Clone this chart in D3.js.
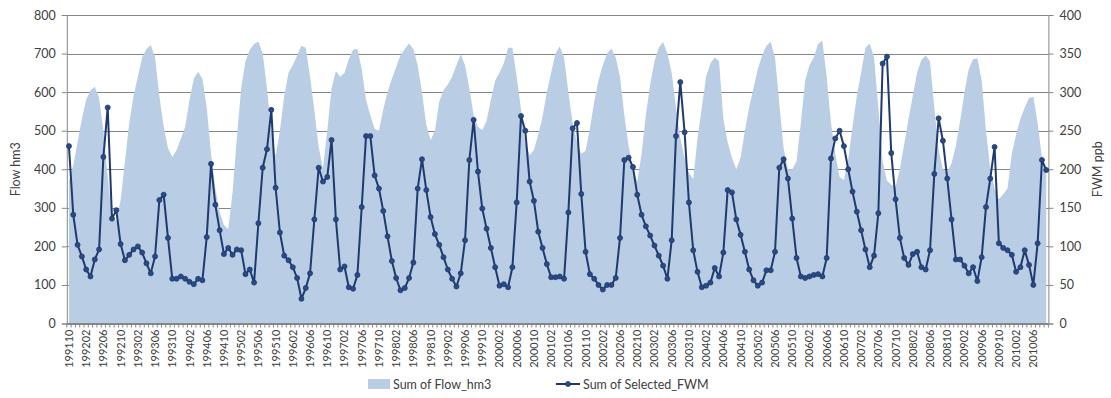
<!DOCTYPE html>
<html>
<head>
<meta charset="utf-8">
<script src="https://cdn.jsdelivr.net/npm/d3@7"></script>
<style>
  body { margin: 0; background: #fff; }
  svg { display: block; }
  text { font-family: Lato, "Liberation Sans", sans-serif; fill: #404040; }
</style>
</head>
<body>
<svg id="chart" width="1111" height="398"></svg>
<script>
// Monthly series, October 1991 through September 2010
const firstYear = 1991;
const firstMonth = 10;

// Sum of Flow_hm3 (left axis, hm3)
const flowHm3 = [
  370, 410, 470, 530, 580, 605, 614, 585, 500, 380,
  275, 265, 320, 420, 520, 590, 640, 690, 712, 722,
  690, 590, 510, 455, 432, 450, 480, 510, 580, 635,
  653, 635, 560, 440, 350, 290, 255, 245, 340, 480,
  610, 680, 709, 725, 731, 700, 610, 500, 435, 500,
  590, 650, 670, 695, 720, 715, 640, 553, 458, 402,
  500, 610, 655, 640, 650, 685, 710, 712, 660, 580,
  540, 505, 500, 555, 600, 635, 665, 695, 712, 726,
  712, 670, 600, 515, 475, 500, 575, 605, 620, 640,
  670, 698, 670, 610, 540, 510, 502, 525, 580, 630,
  650, 675, 715, 715, 640, 555, 470, 436, 450, 490,
  536, 600, 650, 700, 718, 690, 600, 520, 470, 440,
  448, 505, 575, 630, 670, 700, 713, 690, 640, 540,
  460, 400, 368, 440, 540, 620, 680, 715, 730, 700,
  650, 560, 480, 430, 390, 375, 480, 560, 640, 675,
  690, 680, 530, 470, 430, 400, 430, 500, 560, 610,
  660, 695, 720, 730, 690, 570, 455, 400, 400, 420,
  520, 630, 670, 690, 725, 733, 640, 520, 440, 380,
  372, 425, 510, 590, 650, 715, 726, 690, 560, 420,
  370, 360, 355, 400, 465, 530, 590, 650, 683, 695,
  680, 560, 450, 400, 395, 415, 460, 525, 600, 660,
  685, 688, 630, 500, 400, 350, 322, 335, 350, 440,
  490, 530, 560, 585, 588, 520, 430, 395
];

// Sum of Selected_FWM (right axis, ppb)
const selectedFwm = [
  230, 141, 102, 87, 70, 61, 83, 96, 216, 280,
  136, 147, 103, 82, 89, 96, 100, 92, 78, 65,
  87, 160, 167, 111, 58, 58, 61, 58, 54, 51,
  58, 56, 112, 207, 154, 121, 90, 98, 89, 96,
  95, 64, 70, 53, 130, 202, 226, 277, 176, 118,
  88, 82, 73, 59, 32, 46, 65, 135, 202, 184,
  190, 238, 135, 70, 74, 47, 45, 63, 151, 243,
  243, 192, 175, 146, 113, 81, 59, 43, 46, 59,
  79, 175, 213, 173, 138, 116, 102, 86, 70, 58,
  48, 65, 108, 212, 264, 197, 149, 123, 98, 73,
  49, 51, 47, 73, 157, 269, 250, 184, 159, 119,
  98, 77, 60, 60, 61, 58, 144, 253, 260, 168,
  93, 64, 58, 50, 44, 50, 50, 59, 111, 212,
  215, 203, 167, 141, 126, 114, 101, 88, 75, 58,
  108, 243, 313, 248, 157, 95, 67, 47, 49, 53,
  72, 61, 92, 173, 170, 135, 115, 93, 70, 56,
  49, 53, 69, 69, 93, 202, 213, 188, 136, 85,
  61, 59, 61, 63, 64, 61, 85, 214, 240, 250,
  230, 200, 171, 145, 121, 96, 73, 88, 143, 337,
  346, 221, 161, 111, 85, 76, 90, 93, 73, 70,
  95, 194, 266, 237, 188, 135, 83, 83, 75, 65,
  73, 55, 86, 151, 188, 229, 104, 98, 95, 89,
  67, 73, 95, 76, 50, 104, 212, 199
];

const flowTicks = [0, 100, 200, 300, 400, 500, 600, 700, 800];
const fwmTicks = [0, 50, 100, 150, 200, 250, 300, 350, 400];
const labelEvery = 4;

const flowLabel = "Flow hm3";
const fwmLabel = "FWM ppb";
const flowLegend = "Sum of Flow_hm3";
const fwmLegend = "Sum of Selected_FWM";

// Category labels yyyymm
const months = flowHm3.map((_, i) => {
  const m = firstMonth - 1 + i;
  const y = firstYear + Math.floor(m / 12);
  return `${y}${String(m % 12 + 1).padStart(2, "0")}`;
});

const svg = d3.select("#chart");
const plot = { left: 66.8, right: 1048.4, top: 15, bottom: 323.5 };

const x = d3.scaleBand().domain(months).range([plot.left, plot.right]).padding(0);
const cx = m => x(m) + x.bandwidth() / 2;
const yFlow = d3.scaleLinear().domain([0, 800]).range([plot.bottom, plot.top]);
const yFwm = d3.scaleLinear().domain([0, 400]).range([plot.bottom, plot.top]);

const axisColor = "#868686";

// Horizontal gridlines (hidden behind the filled area)
svg.append("g")
  .selectAll("line")
  .data(flowTicks)
  .join("line")
  .attr("x1", plot.left).attr("x2", plot.right)
  .attr("y1", d => Math.round(yFlow(d)) + 0.5)
  .attr("y2", d => Math.round(yFlow(d)) + 0.5)
  .attr("stroke", axisColor).attr("stroke-width", 1);

// Flow area
const flowData = months.map((m, i) => ({ m, v: flowHm3[i] }));
svg.append("path")
  .datum(flowData)
  .attr("fill", "#b9cde5")
  .attr("d", d3.area().x(d => cx(d.m)).y0(yFlow(0)).y1(d => yFlow(d.v)));

// Left axis
const leftAxis = svg.append("g")
  .attr("transform", `translate(${plot.left},0)`)
  .call(d3.axisLeft(yFlow).tickValues(flowTicks).tickSize(5).tickPadding(6));
leftAxis.select(".domain").attr("stroke", axisColor);
leftAxis.selectAll(".tick line").attr("stroke", axisColor);
leftAxis.selectAll("text").style("font-size", "12.5px").attr("fill", "#404040");

// Right axis
const rightAxis = svg.append("g")
  .attr("transform", `translate(${plot.right},0)`)
  .call(d3.axisRight(yFwm).tickValues(fwmTicks).tickSize(5).tickPadding(6));
rightAxis.select(".domain").attr("stroke", axisColor);
rightAxis.selectAll(".tick line").attr("stroke", axisColor);
rightAxis.selectAll("text").style("font-size", "12.5px").attr("fill", "#404040");

// Bottom category axis: a tick between every month, a label every fourth month
const bottom = svg.append("g").attr("transform", `translate(0,${plot.bottom})`);
bottom.append("line")
  .attr("x1", plot.left).attr("x2", plot.right)
  .attr("stroke", axisColor);
bottom.selectAll("line.tick")
  .data(months.concat(["end"]))
  .join("line")
  .attr("class", "tick")
  .attr("x1", (d, i) => i < months.length ? x(d) : plot.right)
  .attr("x2", (d, i) => i < months.length ? x(d) : plot.right)
  .attr("y1", 0).attr("y2", 4)
  .attr("stroke", axisColor);
bottom.selectAll("text")
  .data(months.filter((_, i) => i % labelEvery === 0))
  .join("text")
  .attr("transform", d => `translate(${cx(d) + 4},6) rotate(-90)`)
  .attr("text-anchor", "end")
  .style("font-size", "11px")
  .text(d => d);

// FWM line with markers
const fwmData = months.map((m, i) => ({ m, v: selectedFwm[i] }));
const lineColor = "#1f3a6e";
svg.append("path")
  .datum(fwmData)
  .attr("fill", "none")
  .attr("stroke", lineColor)
  .attr("stroke-width", 2)
  .attr("stroke-linejoin", "round")
  .attr("d", d3.line().x(d => cx(d.m)).y(d => yFwm(d.v)));
svg.append("g")
  .selectAll("circle")
  .data(fwmData)
  .join("circle")
  .attr("cx", d => cx(d.m))
  .attr("cy", d => yFwm(d.v))
  .attr("r", 2.5)
  .attr("fill", "#2a4a85")
  .attr("stroke", lineColor)
  .attr("stroke-width", 0.8);

// Axis titles
svg.append("text")
  .attr("transform", `translate(20,${(plot.top + plot.bottom) / 2}) rotate(-90)`)
  .attr("text-anchor", "middle")
  .style("font-size", "12.5px")
  .text(flowLabel);
svg.append("text")
  .attr("transform", `translate(1102,${(plot.top + plot.bottom) / 2}) rotate(-90)`)
  .attr("text-anchor", "middle")
  .style("font-size", "12.5px")
  .text(fwmLabel);

// Legend
const legend = svg.append("g").attr("transform", "translate(0,384)");
legend.append("rect")
  .attr("x", 368).attr("y", -5).attr("width", 22).attr("height", 10)
  .attr("fill", "#b9cde5");
legend.append("text")
  .attr("x", 393).attr("y", 4.5)
  .style("font-size", "12.5px")
  .text(flowLegend);
legend.append("line")
  .attr("x1", 556).attr("x2", 580).attr("y1", 0).attr("y2", 0)
  .attr("stroke", lineColor).attr("stroke-width", 2);
legend.append("circle")
  .attr("cx", 568).attr("cy", 0).attr("r", 2.5)
  .attr("fill", "#2a4a85").attr("stroke", lineColor).attr("stroke-width", 0.8);
legend.append("text")
  .attr("x", 583).attr("y", 4.5)
  .style("font-size", "12.5px")
  .text(fwmLegend);
</script>
</body>
</html>
